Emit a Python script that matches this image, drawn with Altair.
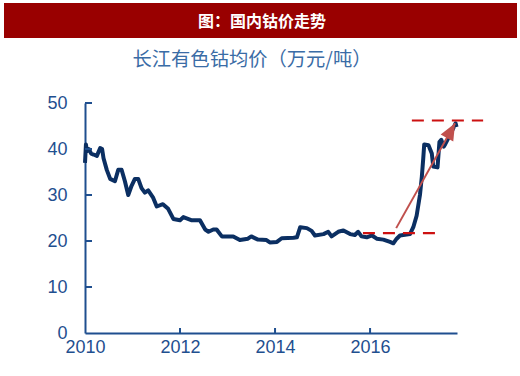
import altair as alt
import pandas as pd

# cobalt price, decimal year vs 万元/吨
years = [2010.00, 2010.02, 2010.04, 2010.08, 2010.13, 2010.18, 2010.25, 2010.32, 2010.36, 2010.39,
         2010.46, 2010.53, 2010.63, 2010.70, 2010.77, 2010.84, 2010.91, 2010.98, 2011.05, 2011.12,
         2011.19, 2011.26, 2011.33, 2011.43, 2011.51, 2011.64, 2011.75, 2011.86, 2012.00, 2012.07,
         2012.25, 2012.42, 2012.53, 2012.60, 2012.70, 2012.77, 2012.88, 2013.12, 2013.26, 2013.43,
         2013.50, 2013.64, 2013.82, 2013.89, 2014.04, 2014.14, 2014.39, 2014.46, 2014.53, 2014.67,
         2014.77, 2014.84, 2015.02, 2015.12, 2015.19, 2015.33, 2015.44, 2015.58, 2015.68, 2015.75,
         2015.82, 2015.93, 2016.04, 2016.14, 2016.28, 2016.42, 2016.49, 2016.56, 2016.63, 2016.84,
         2016.91, 2016.98, 2017.05, 2017.09, 2017.12, 2017.14, 2017.23, 2017.30, 2017.33, 2017.42,
         2017.46, 2017.50, 2017.55, 2017.58, 2017.68, 2017.75, 2017.80, 2017.82]
prices = [37.0, 41.0, 39.5, 40.0, 39.0, 38.8, 38.5, 40.2, 40.0, 38.0,
          35.4, 33.5, 33.0, 35.5, 35.5, 33.0, 30.0, 32.0, 33.5, 33.5,
          31.5, 30.5, 31.0, 29.5, 27.5, 28.0, 27.0, 24.8, 24.5, 25.2,
          24.5, 24.5, 22.5, 22.0, 22.5, 22.5, 21.0, 21.0, 20.2, 20.5,
          21.0, 20.3, 20.2, 19.7, 19.8, 20.6, 20.7, 20.8, 23.0, 22.8,
          22.2, 21.2, 21.5, 22.0, 21.0, 22.0, 22.3, 21.5, 21.3, 22.0,
          21.0, 20.8, 21.2, 20.5, 20.3, 19.8, 19.5, 20.5, 21.2, 21.5,
          23.0, 25.5, 30.0, 34.0, 38.0, 41.0, 40.8, 39.0, 36.2, 36.0,
          41.5, 42.0, 40.5, 41.0, 43.0, 44.5, 45.6, 44.8]

x_ticks = [2010, 2012, 2014, 2016]
y_ticks = [0, 10, 20, 30, 40, 50]

low_x = [2015.85, 2017.37]
low_y = [21.7, 21.7]
high_x = [2016.88, 2018.38]
high_y = [46.2, 46.2]
arrow_x = [2016.55, 2017.79]
arrow_y = [22.8, 45.6]

AXIS_BLUE = "#1f4f8f"
LINE_NAVY = "#0b2f62"
DASH_RED = "#cc1111"
ARROW_RED = "#c0504d"

df = pd.DataFrame({"year": years, "price": prices})
xs = alt.Scale(domain=[2010, 2017.83], nice=False, zero=False)
ys = alt.Scale(domain=[0, 50], nice=False)

x_axis = alt.Axis(values=x_ticks, format="d", title=None, grid=False, tickSize=0,
                  labelFlush=False, labelOverlap=False,
                  domainColor=AXIS_BLUE, domainWidth=2, labelColor=AXIS_BLUE,
                  labelFontSize=18, labelFont="Liberation Sans", labelPadding=5)
y_axis = alt.Axis(values=y_ticks, title=None, grid=False, tickSize=0,
                  labelFlush=False, labelOverlap=False,
                  domainColor=AXIS_BLUE, domainWidth=2, labelColor=AXIS_BLUE,
                  labelFontSize=18, labelFont="Liberation Sans", labelPadding=18)

line = alt.Chart(df).mark_line(color=LINE_NAVY, strokeWidth=4, strokeJoin="round").encode(
    x=alt.X("year:Q", scale=xs, axis=x_axis),
    y=alt.Y("price:Q", scale=ys, axis=y_axis),
)

ytick_df = pd.DataFrame({"v": y_ticks[1:]})
yticks = alt.Chart(ytick_df).mark_rule(color=AXIS_BLUE, strokeWidth=2).encode(
    y=alt.Y("v:Q", scale=ys), x=alt.value(0), x2=alt.value(7))
xtick_df = pd.DataFrame({"v": x_ticks[1:]})
xticks = alt.Chart(xtick_df).mark_rule(color=AXIS_BLUE, strokeWidth=2).encode(
    x=alt.X("v:Q", scale=xs), y=alt.value(230), y2=alt.value(225))

def dashed(xv, yv):
    d = pd.DataFrame({"x": xv, "y": yv})
    return alt.Chart(d).mark_line(color=DASH_RED, strokeWidth=2.2, strokeDash=[12, 8],
                                  clip=False).encode(
        x=alt.X("x:Q", scale=xs), y=alt.Y("y:Q", scale=ys))

low = dashed(low_x, low_y)
high = dashed(high_x, high_y)

adf = pd.DataFrame({"x": arrow_x, "y": arrow_y})
arrow_line = alt.Chart(adf).mark_line(color=ARROW_RED, strokeWidth=2).encode(
    x=alt.X("x:Q", scale=xs), y=alt.Y("y:Q", scale=ys))
head_df = pd.DataFrame({"x": [arrow_x[1]], "y": [arrow_y[1]]})
arrow_head = alt.Chart(head_df).mark_point(
    shape="M0,0L1.2,2.8L-1.2,2.8Z", filled=True, color=ARROW_RED, opacity=1,
    size=144, angle=29).encode(
    x=alt.X("x:Q", scale=xs), y=alt.Y("y:Q", scale=ys))

banner = alt.Chart(pd.DataFrame({"t": ["图：国内钴价走势"]})).mark_rect(
    color="#990000").encode(x=alt.value(-81), x2=alt.value(432),
                            y=alt.value(-100), y2=alt.value(-65))
banner_text = alt.Chart(pd.DataFrame({"t": ["图：国内钴价走势"]})).mark_text(
    color="white", fontSize=16, fontWeight="bold", font="Noto Sans CJK SC",
    align="center", baseline="middle").encode(
    text="t:N", x=alt.value(177), y=alt.value(-81))
subtitle = alt.Chart(pd.DataFrame({"t": ["长江有色钴均价（万元/吨）"]})).mark_text(
    color="#3a6ca6", fontSize=19.3, font="Noto Sans CJK SC",
    align="center", baseline="middle").encode(
    text="t:N", x=alt.value(167), y=alt.value(-43))

chart = alt.layer(banner, banner_text, subtitle, line, yticks, xticks, low, high,
                  arrow_line, arrow_head).properties(
    width=372, height=230,
    autosize=alt.AutoSizeParams(type="none"),
    padding={"left": 85, "top": 103, "right": 63, "bottom": 43},
    background="white",
).configure_view(stroke=None)

chart.save("out.html", embed_options={"renderer": "svg", "actions": False})
